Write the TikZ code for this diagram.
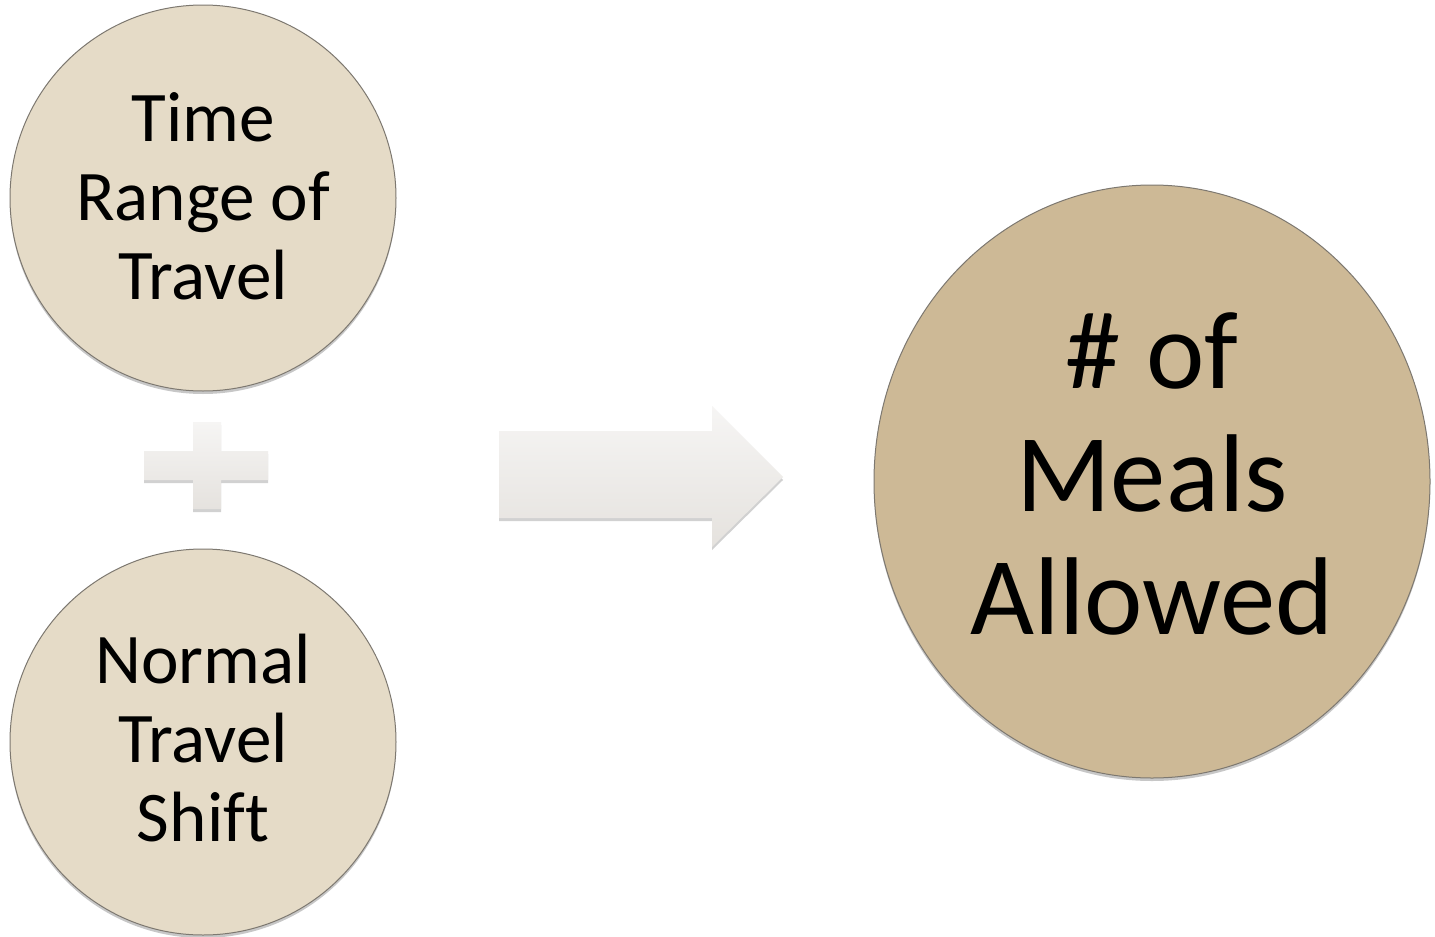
\documentclass[tikz,border=0pt]{standalone}
\usepackage{fontspec}
\setmainfont{Carlito}[Ligatures=NoCommon]
\usetikzlibrary{shapes.geometric,shadows}
\definecolor{smallfill}{RGB}{229,219,199}
\definecolor{bigfill}{RGB}{205,185,150}
\definecolor{edgegray}{RGB}{125,120,112}
\definecolor{shapetop}{RGB}{246,245,244}
\definecolor{shapebot}{RGB}{229,226,222}
\tikzset{
  softshadow/.style={drop shadow={shadow xshift=0pt, shadow yshift=-1.5pt, opacity=0.22, fill=black}},
  smallcircle/.style={circle, draw=edgegray, line width=0.5pt, fill=smallfill,
    minimum size=193pt, inner sep=0pt, softshadow},
  bigcircle/.style={ellipse, draw=edgegray, line width=0.5pt, fill=bigfill,
    minimum width=278pt, minimum height=296.5pt, inner sep=0pt, softshadow},
  smalltext/.style={align=center, inner sep=0pt, text=black,
    font=\fontsize{35.6}{39.5}\selectfont},
  bigtext/.style={align=center, inner sep=0pt, text=black,
    font=\fontsize{55.3}{61.5}\selectfont},
  blockshape/.style={top color=shapetop, bottom color=shapebot, draw=none,
    drop shadow={shadow xshift=0pt, shadow yshift=-1.5pt, opacity=0.18, fill=black}}
}
\begin{document}
\begin{tikzpicture}[x=0.5pt,y=-0.5pt]
\useasboundingbox[fill=white] (0,0) rectangle (1435,937);
% circles
\node[smallcircle] (c1) at (203,198) {};
\node[smallcircle] (c2) at (203,742) {};
\node[bigcircle] (c3) at (1152,481.5) {};
% texts
\node[smalltext] (t1) at (203,196.5) {Time\\Range of\\Travel};
\node[smalltext] (t2) at (203,738) {Normal\\Travel\\Shift};
\node[bigtext] (t3) at (1152,474) {\# of\\Meals\\Allowed};
% plus sign
\path[blockshape] (193,422) -- (221,422) -- (221,451) -- (268,451) -- (268,480)
  -- (221,480) -- (221,509) -- (193,509) -- (193,480) -- (144,480)
  -- (144,451) -- (193,451) -- cycle;
% block arrow
\path[blockshape] (499,431) -- (712,431) -- (712,406) -- (783,477)
  -- (712,547) -- (712,518) -- (499,518) -- cycle;
\end{tikzpicture}
\end{document}
